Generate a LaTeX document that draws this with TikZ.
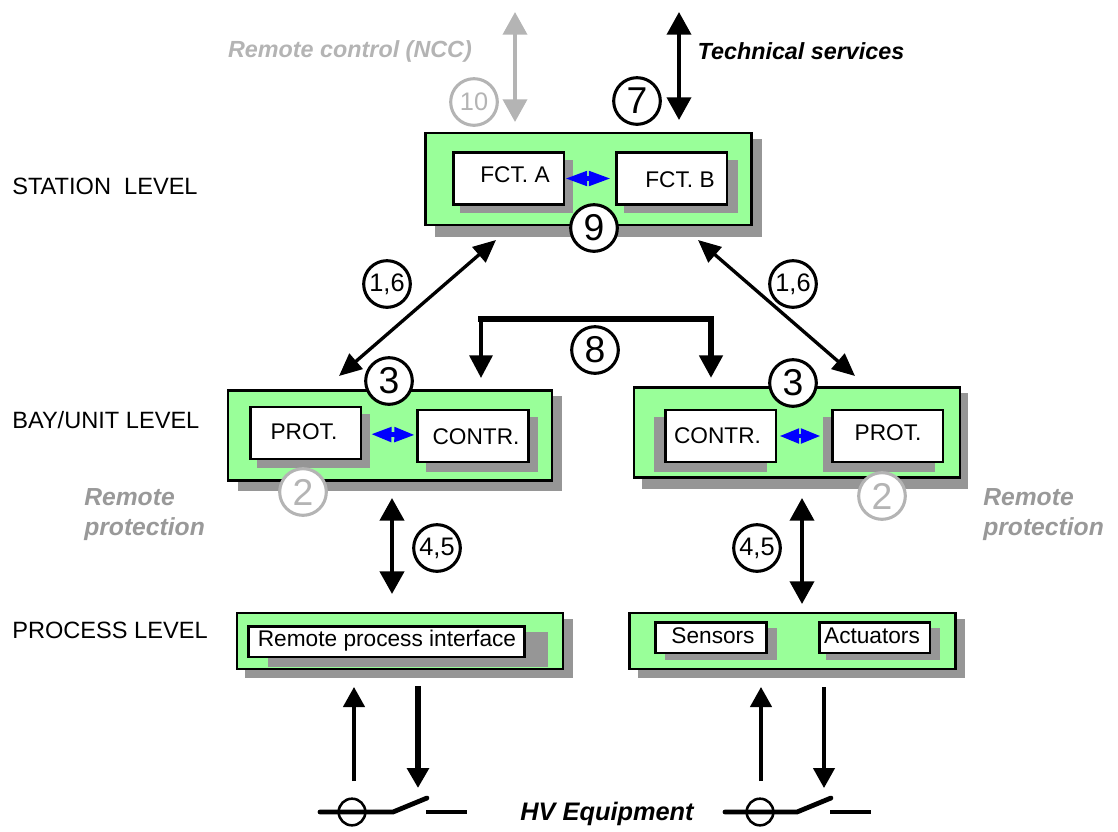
\documentclass[tikz,border=0pt]{standalone}
\usepackage{fontspec}
\setmainfont{Liberation Sans}
\usetikzlibrary{arrows.meta}
\definecolor{levelgreen}{HTML}{99FF99}
\definecolor{shadowgray}{HTML}{969696}
\definecolor{remotegray}{HTML}{B4B4B4}
\tikzset{
    levelbox/.style={draw, line width=2.2pt, fill=levelgreen, rectangle, inner sep=0pt},
    funcbox/.style={draw, line width=2pt, fill=white, rectangle, inner sep=0pt, minimum width=83pt, minimum height=39pt},
    smallbox/.style={draw, line width=2pt, fill=white, rectangle, inner sep=0pt, minimum width=83pt, minimum height=23pt},
    boxtext/.style={inner sep=0pt, font=\fontsize{17}{20}\selectfont},
    leveltext/.style={inner sep=0pt, anchor=west, font=\fontsize{17.7}{20}\selectfont},
    remotetext/.style={inner sep=0pt, anchor=west, text=remotegray!85!black, font=\fontsize{18.5}{22.5}\selectfont\bfseries\itshape, align=left},
    linktext/.style={inner sep=0pt, font=\fontsize{17.5}{20}\selectfont\bfseries\itshape},
    bignum/.style={circle, draw, line width=2.3pt, fill=white, inner sep=0pt, minimum size=35pt, font=\fontsize{28}{28}\selectfont},
    smallnum/.style={bignum, font=\fontsize{19}{19}\selectfont},
    grayed/.style={draw=remotegray, text=remotegray},
    link/.style={line width=2.8pt, {Triangle[width=18pt,length=17pt]}-{Triangle[width=18pt,length=17pt]}},
    diaglink/.style={line width=2.5pt, {Triangle[width=15pt,length=17pt]}-{Triangle[width=15pt,length=17pt]}},
    bluelink/.style={blue, line width=3.6pt, {Triangle[width=10.5pt,length=#1]}-{Triangle[width=10.5pt,length=#1]}},
    sigup/.style={line width=2.5pt, -{Triangle[width=16pt,length=15pt]}},
    sigdown/.style={line width=3.8pt, -{Triangle[width=16pt,length=15pt]}}
}

\begin{document}
\begin{tikzpicture}[x=0.75pt, y=-0.75pt]
        \useasboundingbox (0,0) rectangle (1118,832);
        \foreach \xa/\ya/\xb/\yb in {435/139/762/237, 238/396/562/491, 642/393/968/489, 245/619/573/678, 638/619/965/678}
            \fill[shadowgray] (\xa,\ya) rectangle (\xb,\yb);
        \node[levelbox, minimum width=245pt, minimum height=69pt] (station) at (588.5,179) {};
        \node[levelbox, minimum width=243pt, minimum height=68pt] (bayL) at (390,435.5) {};
        \node[levelbox, minimum width=244.5pt, minimum height=68pt] (bayR) at (797,432.5) {};
        \node[levelbox, minimum width=244.5pt, minimum height=42pt] (procL) at (400,641) {};
        \node[levelbox, minimum width=245pt, minimum height=42pt] (procR) at (792.5,641) {};
        \foreach \xa/\ya/\xb/\yb in {460/160/573/213, 624/160/738/213, 257/414/370/468, 426/417/538/472, 654/417/767/472, 823/417/935/472, 268/632/548/667, 665/628/777/660, 826/628/940/660}
            \fill[shadowgray] (\xa,\ya) rectangle (\xb,\yb);
        \node[funcbox] (fctA) at (508.5,178.5) {};
        \node[funcbox] (fctB) at (671.5,178.5) {};
        \node[funcbox] (protL) at (305.5,433) {};
        \node[funcbox] (contrL) at (473,436) {};
        \node[funcbox] (contrR) at (720.5,436) {};
        \node[funcbox] (protR) at (887.5,436) {};
        \node[smallbox, minimum width=207pt] (remoteif) at (386.5,641.5) {};
        \node[smallbox] (sensors) at (711,637.5) {};
        \node[smallbox] (actuators) at (874.5,637.5) {};
        \node[boxtext] (fctAtext) at (515,175) {FCT. A};
        \node[boxtext] (fctBtext) at (680,180) {FCT. B};
        \node[boxtext] (protLtext) at (304,432) {PROT.};
        \node[boxtext] (contrLtext) at (476,437) {CONTR.};
        \node[boxtext] (contrRtext) at (717.5,436) {CONTR.};
        \node[boxtext] (protRtext) at (888,433) {PROT.};
        \node[boxtext] (remoteiftext) at (387,641) {Remote process interface};
        \node[boxtext] (sensorstext) at (713,636) {Sensors};
        \node[boxtext] (actuatorstext) at (872,636) {Actuators};
        \node[leveltext] (stationlevel) at (12,186) {STATION\ \ LEVEL};
        \node[leveltext] (baylevel) at (12,420) {BAY/UNIT LEVEL};
        \node[leveltext] (processlevel) at (12,630) {PROCESS LEVEL};
        \node[remotetext] (remoteL) at (84,515) {Remote\\protection};
        \node[remotetext] (remoteR) at (983,515) {Remote\\protection};
        \node[linktext, text=remotegray] (ncc) at (350,51) {Remote control (NCC)};
        \node[linktext] (services) at (801,51) {Technical services};
        \node[linktext, font=\fontsize{19}{20}\selectfont\bfseries\itshape] (hv) at (607,814) {HV Equipment};
        \coordinate (nccA) at (515,12);
        \coordinate (nccB) at (515,122);
        \coordinate (tsA) at (679,12);
        \coordinate (tsB) at (679,120);
        \coordinate (diagLa) at (496,240);
        \coordinate (diagLb) at (339,376);
        \coordinate (diagRa) at (698,240);
        \coordinate (diagRb) at (855,376);
        \coordinate (busL) at (481,378);
        \coordinate (busR) at (711,378);
        \coordinate (busTop) at (596,319);
        \coordinate (vertLa) at (392,498);
        \coordinate (vertLb) at (392,594);
        \coordinate (vertRa) at (802,498);
        \coordinate (vertRb) at (802,604);
        \draw[link, remotegray] (nccA) -- (nccB);
        \draw[link] (tsA) -- (tsB);
        \draw[diaglink] (diagLa) -- (diagLb);
        \draw[diaglink] (diagRa) -- (diagRb);
        \draw[line width=5pt, line cap=rect] (busTop -| busL) -- (busTop -| busR);
        \draw[line width=3.2pt, -{Triangle[width=17pt,length=17pt]}] (busTop -| busL) -- (busL);
        \draw[line width=5pt, -{Triangle[width=17pt,length=17pt]}] (busTop -| busR) -- (busR);
        \draw[link, line width=3.2pt] (vertLa) -- (vertLb);
        \draw[link, line width=2.8pt] (vertRa) -- (vertRb);
        \draw[bluelink=16.5pt, shorten >=3pt] (fctA) -- (fctB);
        \draw[bluelink=15.5pt, shorten <=6.5pt, shorten >=1pt] (protL) -- (contrL);
        \draw[bluelink=15pt, shorten <=1.5pt, shorten >=7.5pt] (contrR) -- (protR);
        \node[bignum] (seven) at (637,101) {7};
        \node[smallnum, grayed] (ten) at (474,102) {10};
        \node[bignum] (nine) at (594,228) {9};
        \node[smallnum] (oneL) at (387,284) {1,6};
        \node[smallnum] (oneR) at (793,284) {1,6};
        \node[bignum] (eight) at (595,350) {8};
        \node[bignum] (threeL) at (389,381) {3};
        \node[bignum] (threeR) at (793,383) {3};
        \node[bignum, grayed] (twoL) at (303,492) {2};
        \node[bignum, grayed] (twoR) at (882,496) {2};
        \node[smallnum] (fourL) at (437,548) {4,5};
        \node[smallnum] (fourR) at (757,548) {4,5};
        \coordinate (inLa) at (354,781);
        \coordinate (inLb) at (354,687);
        \coordinate (outLa) at (418,686);
        \coordinate (outLb) at (418,788);
        \coordinate (inRa) at (761,781);
        \coordinate (inRb) at (761,687);
        \coordinate (outRa) at (824,687);
        \coordinate (outRb) at (824,788);
        \draw[sigup] (inLa) -- (inLb);
        \draw[sigdown] (outLa) -- (outLb);
        \draw[sigup] (inRa) -- (inRb);
        \draw[sigup] (outRa) -- (outRb);
        \node[circle, draw, line width=1.9pt, inner sep=0pt, minimum size=20pt] (breakerL) at (352,812) {};
        \node[circle, draw, line width=1.9pt, inner sep=0pt, minimum size=20pt] (breakerR) at (760,812) {};
        \coordinate (swLa) at (320,812);
        \coordinate (swLb) at (393,812);
        \coordinate (swLc) at (427,798);
        \coordinate (swLd) at (426,812);
        \coordinate (swLe) at (467,812);
        \coordinate (swRa) at (725,812);
        \coordinate (swRb) at (797,812);
        \coordinate (swRc) at (831,798);
        \coordinate (swRd) at (830,812);
        \coordinate (swRe) at (871,812);
        \draw[line width=3.6pt, line cap=round] (swLa) -- (swLb) -- (swLc);
        \draw[line width=2.4pt] (swLd) -- (swLe);
        \draw[line width=3.6pt, line cap=round] (swRa) -- (swRb) -- (swRc);
        \draw[line width=2.4pt] (swRd) -- (swRe);
    \end{tikzpicture}
\end{document}
